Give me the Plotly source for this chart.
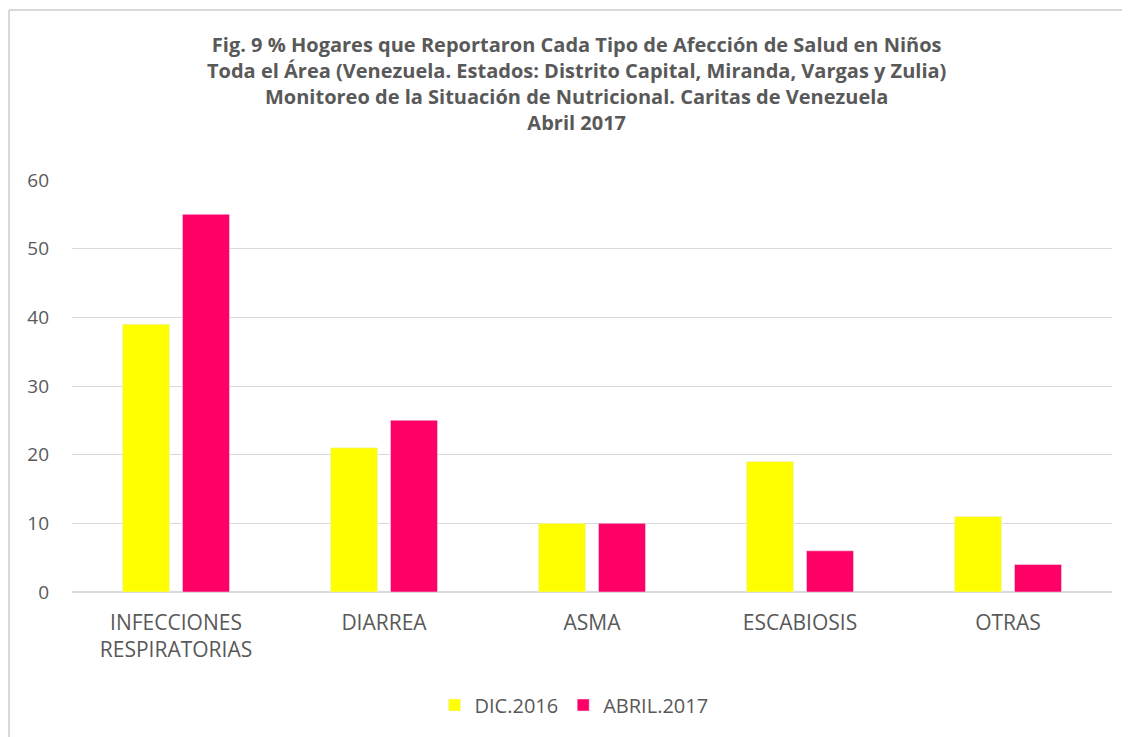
import plotly.graph_objects as go

categorias = ["INFECCIONES<br>RESPIRATORIAS", "DIARREA", "ASMA", "ESCABIOSIS", "OTRAS"]
dic_2016 = [39, 21, 10, 19, 11]
abril_2017 = [55, 25, 10, 6, 4]
serie_nombres = ["DIC.2016", "ABRIL.2017"]
titulo_lineas = [
    "Fig. 9 % Hogares que Reportaron Cada Tipo de Afección de Salud en Niños",
    "Toda el Área (Venezuela. Estados: Distrito Capital, Miranda, Vargas y Zulia)",
    "Monitoreo de la Situación de Nutricional. Caritas de Venezuela",
    "Abril 2017",
]

# page has an 8px body margin; figure coordinates below are page minus 8
W, H = 1122, 729
L, R, T, B = 64, 18, 172, 145
pw = W - L - R
ph = H - T - B


def px_x(p):
    return (p - L) / pw


def px_y(p):
    return (H - B - p) / ph


fig = go.Figure()
fig.add_trace(go.Bar(x=categorias, y=dic_2016, name=serie_nombres[0], marker_color="#FFFF00"))
fig.add_trace(go.Bar(x=categorias, y=abril_2017, name=serie_nombres[1], marker_color="#FF0066"))

annotations = [
    dict(text="<b>" + "<br>".join(titulo_lineas) + "</b>", xref="paper", yref="paper",
         x=px_x(568), y=px_y(75.5), xanchor="center", yanchor="middle", showarrow=False,
         font=dict(size=20, color="#595959", family="Open Sans, sans-serif"))
]

fig.update_layout(
    width=W, height=H,
    margin=dict(l=L, r=R, t=T, b=B),
    paper_bgcolor="white", plot_bgcolor="white",
    font=dict(family="Open Sans, sans-serif", color="#595959", size=20),
    barmode="group", bargap=0.423, bargroupgap=0.217,
    annotations=annotations,
    legend=dict(orientation="h", x=px_x(566), xanchor="center", y=px_y(697), yanchor="middle",
                font=dict(size=20, color="#595959"), itemwidth=30, traceorder="normal"),
    showlegend=True,
    shapes=[
        dict(type="line", xref="paper", yref="paper", x0=px_x(1), x1=px_x(1200), y0=px_y(2), y1=px_y(2),
             line=dict(color="#D9D9D9", width=2)),
        dict(type="line", xref="paper", yref="paper", x0=px_x(1), x1=px_x(1), y0=px_y(2), y1=px_y(800),
             line=dict(color="#D9D9D9", width=2)),
    ],
)
fig.update_yaxes(range=[0, 60], dtick=10, showgrid=True, gridcolor="#D9D9D9", gridwidth=1,
                 zeroline=True, zerolinecolor="#D9D9D9", zerolinewidth=1.5,
                 showline=False, ticks="", ticklabelstandoff=22, tickfont=dict(size=19))
fig.update_xaxes(showgrid=False, showline=False, ticks="", tickfont=dict(size=21), ticklabelstandoff=16)

fig.write_html("out.html")
